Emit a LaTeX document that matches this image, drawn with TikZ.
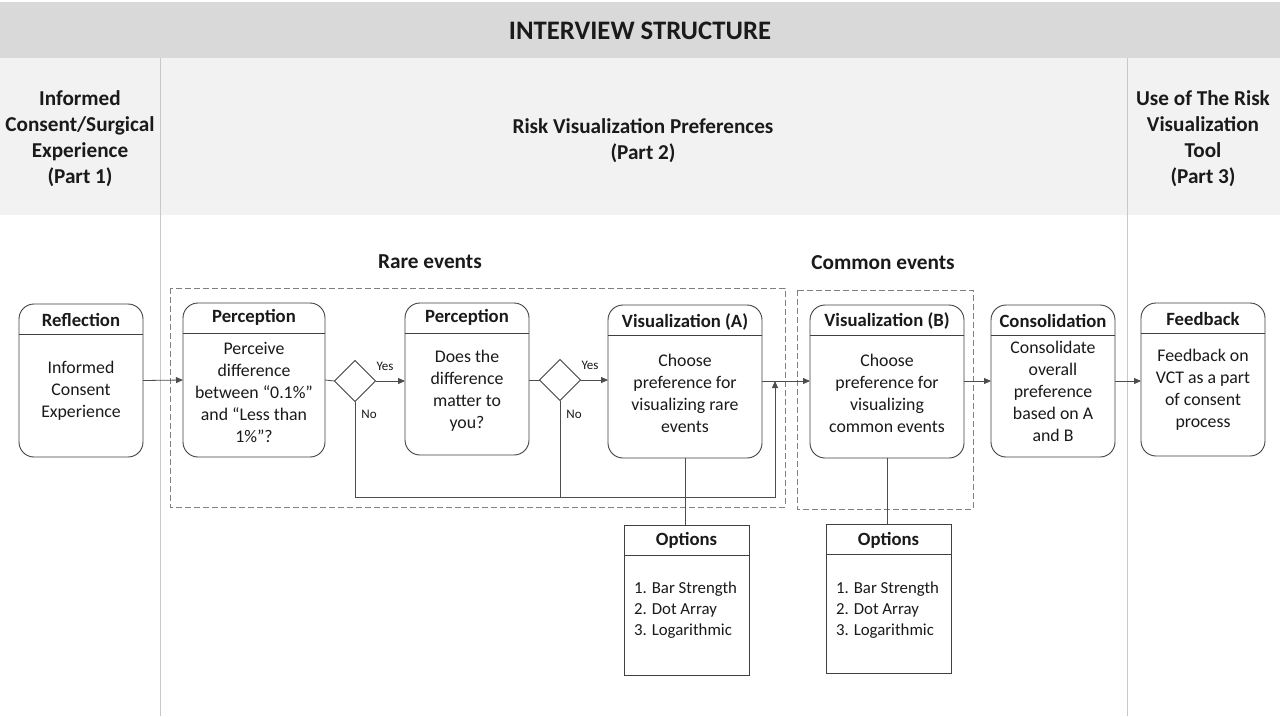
\documentclass[tikz,border=0pt]{standalone}
\usepackage{fontspec}
\setmainfont{Carlito}
\usetikzlibrary{arrows.meta,shapes.geometric}
\definecolor{boxc}{HTML}{404040}
\definecolor{linec}{HTML}{4D4D4D}
\definecolor{dashc}{HTML}{808080}
\definecolor{bandA}{HTML}{D9D9D9}
\definecolor{bandB}{HTML}{F2F2F2}
\definecolor{vline}{HTML}{C8C8C8}
\definecolor{txt}{HTML}{1A1A1A}
\begin{document}
\begin{tikzpicture}[x=1pt,y=-1pt,
  every node/.style={text=txt, outer sep=0pt},
  box/.style={draw=boxc, line width=0.9pt, rounded corners=15pt, fill=white, inner sep=0pt},
  optbox/.style={draw=boxc, line width=0.9pt, fill=white, inner sep=0pt},
  sepline/.style={draw=boxc, line width=0.6pt},
  hdr/.style={font=\fontsize{18.7}{22}\selectfont\bfseries, inner sep=0pt},
  body/.style={font=\fontsize{17.8}{22}\selectfont, align=center, inner sep=0pt},
  optbody/.style={font=\fontsize{16.8}{21}\selectfont, align=left, inner sep=0pt},
  part/.style={font=\fontsize{21.2}{26}\selectfont\bfseries, align=center, inner sep=0pt},
  group/.style={font=\fontsize{21.3}{24}\selectfont\bfseries, inner sep=0pt},
  dec/.style={draw=boxc, line width=0.9pt, shape=diamond, minimum width=41pt, minimum height=41pt, inner sep=0pt, fill=white},
  conn/.style={draw=linec, line width=0.8pt},
  arr/.style={conn, -{Triangle[length=7pt,width=6pt]}},
  lbl/.style={font=\fontsize{13}{15}\selectfont, inner sep=0pt},
  dashbox/.style={draw=dashc, line width=0.9pt, dash pattern=on 6pt off 3pt}
]
\useasboundingbox (0,0) rectangle (1280,716);
\fill[white] (0,0) rectangle (1280,716);
% bands
\fill[bandA] (0,2) rectangle (1280,58);
\fill[bandB] (0,58) rectangle (1280,215);
\draw[vline, line width=1pt] (160,58) -- (160,716);
\draw[vline, line width=1pt] (1127,58) -- (1127,716);
\node[font=\fontsize{26.7}{30}\selectfont\bfseries, inner sep=0pt] (title) at (640,31) {INTERVIEW STRUCTURE};
\node[part] (p1) at (80,139) {Informed\\Consent/Surgical\\Experience\\(Part 1)};
\node[part] (p2) at (643,141) {Risk Visualization Preferences\\(Part 2)};
\node[part] (p3) at (1203,139) {Use of The Risk\\Visualization\\Tool\\(Part 3)};
% groups
\node[group] (rare) at (430,262) {Rare events};
\node[group] (common) at (883,263) {Common events};
\draw[dashbox] (170,288) rectangle (785,507);
\draw[dashbox] (797,290) rectangle (973,509);
% boxes
\node[box, minimum width=124pt, minimum height=153pt] (refl) at (81,380.5) {};
\node[box, minimum width=142pt, minimum height=154pt] (per1) at (254,380) {};
\node[box, minimum width=124pt, minimum height=152pt] (per2) at (467,379) {};
\node[box, minimum width=154pt, minimum height=153pt] (visA) at (685,381.5) {};
\node[box, minimum width=154pt, minimum height=153pt] (visB) at (887,381.5) {};
\node[box, minimum width=124pt, minimum height=152pt] (cons) at (1053,381) {};
\node[box, minimum width=124pt, minimum height=153pt] (feed) at (1203,379.5) {};
\node[optbox, minimum width=125pt, minimum height=150pt] (opt1) at (686.5,600) {};
\node[optbox, minimum width=125pt, minimum height=149pt] (opt2) at (888.5,598.5) {};
\foreach \b in {refl,per1,per2,visA,visB,cons,feed,opt1,opt2}{
  \draw[sepline] ([yshift=-30pt]\b.north west) -- ([yshift=-30pt]\b.north east);
}
% headers
\node[hdr] (h1) at ([yshift=-15.5pt]refl.north) {Reflection};
\node[hdr] (h2) at ([yshift=-14pt]per1.north) {Perception};
\node[hdr] (h3) at ([yshift=-14pt]per2.north) {Perception};
\node[hdr] (h4) at ([yshift=-17pt]visA.north) {Visualization (A)};
\node[hdr] (h5) at ([yshift=-16pt]visB.north) {Visualization (B)};
\node[hdr] (h6) at ([yshift=-16pt]cons.north) {Consolidation};
\node[hdr] (h7) at ([yshift=-16pt]feed.north) {Feedback};
\node[hdr] (h8) at ([yshift=-15.5pt]opt1.north) {Options};
\node[hdr] (h9) at ([yshift=-16pt]opt2.north) {Options};
% bodies
\node[body] (b1) at (81,391) {Informed\\Consent\\Experience};
\node[body] (b2) at (254,392) {Perceive\\difference\\between “0.1\%”\\and “Less than\\1\%”?};
\node[body] (b3) at (467,391) {Does the\\difference\\matter to\\you?};
\node[body] (b4) at (685,393) {Choose\\preference for\\visualizing rare\\events};
\node[body] (b5) at (887,393) {Choose\\preference for\\visualizing\\common events};
\node[body] (b6) at (1053,391) {Consolidate\\overall\\preference\\based on A\\and B};
\node[body] (b7) at (1203,390) {Feedback on\\VCT as a part\\of consent\\process};
\node[optbody, anchor=west] (o1) at (634,610) {1. Bar Strength\\2. Dot Array\\3. Logarithmic};
\node[optbody, anchor=west] (o2) at (836,610) {1. Bar Strength\\2. Dot Array\\3. Logarithmic};
% decisions
\node[dec] (d1) at (355,381) {};
\node[dec] (d2) at (560,380) {};
\node[lbl] (y1) at (385,366) {Yes};
\node[lbl] (n1) at (369,414) {No};
\node[lbl] (y2) at (590,365) {Yes};
\node[lbl] (n2) at (574,414) {No};
% connectors
\coordinate (merge) at (775,381);
\coordinate (loop) at (355,497);
\draw[arr] (refl.east) -- (per1.west);
\draw[conn] (per1.east) -- (d1.west);
\draw[arr] (d1.east) -- (per2.west |- d1.east);
\draw[conn] (per2.east |- d2.west) -- (d2.west);
\draw[arr] (d2.east) -- (visA.west |- d2.east);
\draw[arr] (visA.east |- merge) -- (visB.west |- merge);
\draw[arr] (visB.east |- merge) -- (cons.west |- merge);
\draw[arr] (cons.east |- merge) -- (feed.west |- merge);
\draw[arr] (d1.south) -- (loop) -| (merge);
\draw[conn] (d2.south) -- (d2.south |- loop);
\draw[conn] (visA.south) -- (visA.south |- opt1.north);
\draw[conn] (visB.south) -- (visB.south |- opt2.north);
\end{tikzpicture}
\end{document}
